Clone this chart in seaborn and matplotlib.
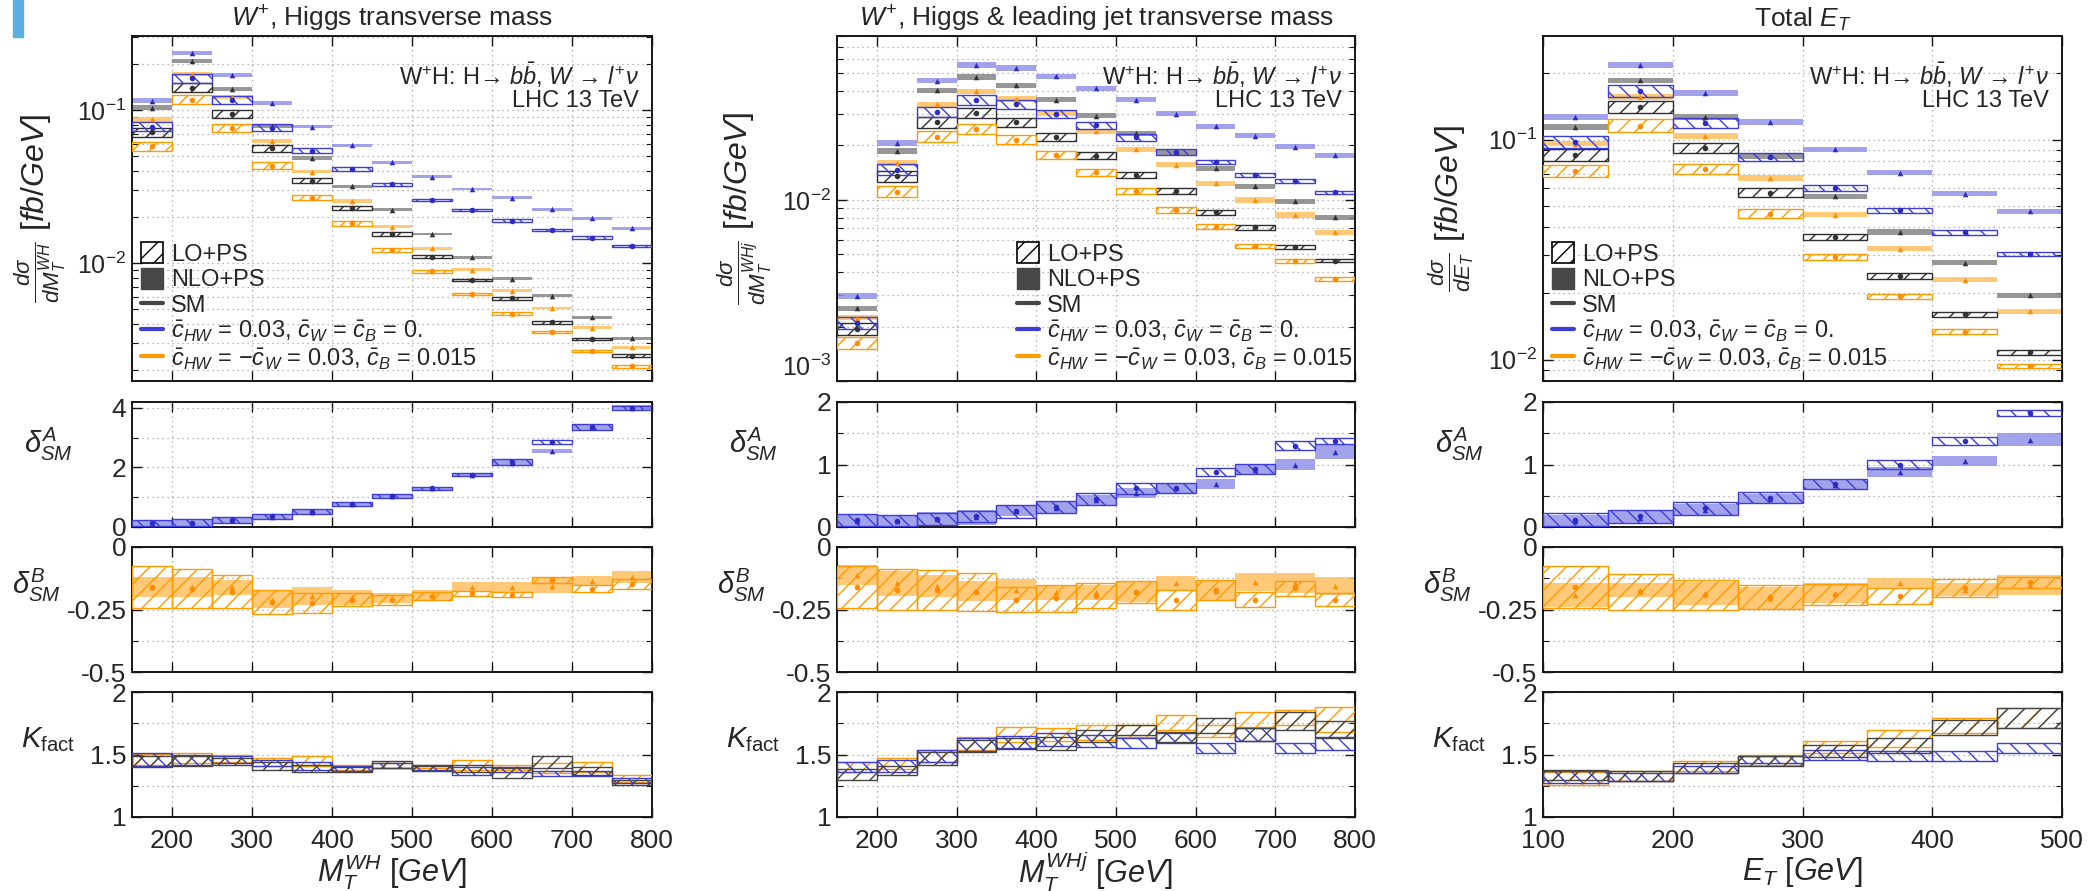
import numpy as np
import matplotlib
matplotlib.use("Agg")
import matplotlib.pyplot as plt
import seaborn as sns
from matplotlib import font_manager
from matplotlib.patches import Patch, Rectangle
from matplotlib.lines import Line2D
from matplotlib.ticker import FixedLocator, LogLocator, NullFormatter, NullLocator, FuncFormatter

# ---------------------------------------------------------------- data
# bin edges
EDGES_MT = [150, 200, 250, 300, 350, 400, 450, 500, 550, 600, 650, 700, 750, 800]
EDGES_ET = [100, 150, 200, 250, 300, 350, 400, 450, 500]

# --- W+, Higgs transverse mass: dsigma/dM_T [fb/GeV]
WH_SM_NLO = [0.104, 0.209, 0.138, 0.079, 0.0487, 0.0319, 0.0223, 0.0155, 0.0109, 0.0079, 0.00612, 0.00443, 0.00324]
WH_SM_LO = [0.0715, 0.140, 0.094, 0.0562, 0.0346, 0.0229, 0.0155, 0.0110, 0.00778, 0.00589, 0.0041, 0.00321, 0.00249]
WH_A_NLO = [0.115, 0.236, 0.170, 0.1116, 0.078, 0.0589, 0.0456, 0.0367, 0.0305, 0.0268, 0.0225, 0.0196, 0.0169]
WH_A_LO = [0.078, 0.161, 0.117, 0.077, 0.0543, 0.0414, 0.0327, 0.0259, 0.0223, 0.019, 0.0165, 0.0147, 0.0130]
WH_B_NLO = [0.087, 0.173, 0.122, 0.063, 0.0396, 0.0255, 0.0173, 0.0125, 0.00905, 0.0066, 0.00509, 0.0038, 0.00282]
WH_B_LO = [0.058, 0.117, 0.0767, 0.0434, 0.0268, 0.0182, 0.0122, 0.00883, 0.00628, 0.00468, 0.00355, 0.00268, 0.00212]
# scale-uncertainty half widths (log10 units)
WH_LO_HW = [0.028, 0.03, 0.025, 0.022, 0.018, 0.014, 0.011, 0.009, 0.008, 0.008, 0.008, 0.008, 0.008]
WH_NLO_HW = [0.016, 0.014, 0.013, 0.012, 0.011, 0.010, 0.010, 0.009, 0.009, 0.009, 0.009, 0.009, 0.009]
# relative deviations from the SM
WH_DA_NLO = [0.10, 0.13, 0.22, 0.35, 0.52, 0.77, 1.05, 1.30, 1.75, 2.15, 2.55, 3.35, 4.0]
WH_DA_NLO_ERR = [0.10, 0.10, 0.10, 0.08, 0.08, 0.07, 0.07, 0.05, 0.06, 0.10, 0.08, 0.10, 0.10]
WH_DA_LO = [0.12, 0.14, 0.23, 0.36, 0.52, 0.78, 1.05, 1.30, 1.75, 2.18, 2.85, 3.35, 4.0]
WH_DA_LO_ERR = [0.10, 0.12, 0.10, 0.09, 0.08, 0.07, 0.06, 0.05, 0.05, 0.10, 0.06, 0.10, 0.08]
WH_DB_NLO = [-0.16, -0.16, -0.16, -0.21, -0.195, -0.20, -0.205, -0.19, -0.16, -0.16, -0.155, -0.135, -0.12]
WH_DB_NLO_ERR = [0.04, 0.04, 0.03, 0.035, 0.035, 0.03, 0.02, 0.02, 0.02, 0.02, 0.03, 0.02, 0.025]
WH_DB_LO = [-0.16, -0.166, -0.178, -0.22, -0.223, -0.21, -0.21, -0.195, -0.184, -0.19, -0.133, -0.166, -0.146]
WH_DB_LO_ERR = [0.085, 0.077, 0.065, 0.048, 0.04, 0.027, 0.02, 0.015, 0.01, 0.01, 0.012, 0.014, 0.02]
# K factors
WH_K_SM = [1.445, 1.45, 1.445, 1.41, 1.39, 1.38, 1.42, 1.39, 1.39, 1.35, 1.44, 1.37, 1.28]
WH_K_SM_ERR = [0.045, 0.04, 0.03, 0.03, 0.03, 0.02, 0.03, 0.02, 0.03, 0.04, 0.05, 0.03, 0.02]
WH_K_A = [1.46, 1.46, 1.46, 1.43, 1.41, 1.39, 1.41, 1.40, 1.37, 1.38, 1.35, 1.35, 1.29]
WH_K_A_ERR = [0.05, 0.04, 0.03, 0.025, 0.03, 0.02, 0.02, 0.02, 0.03, 0.02, 0.02, 0.02, 0.02]
WH_K_B = [1.46, 1.47, 1.47, 1.44, 1.45, 1.40, 1.41, 1.405, 1.42, 1.40, 1.39, 1.40, 1.31]
WH_K_B_ERR = [0.045, 0.04, 0.03, 0.03, 0.04, 0.02, 0.02, 0.015, 0.04, 0.02, 0.04, 0.04, 0.03]

# --- W+, Higgs & leading jet transverse mass
WHJ_SM_NLO = [0.00252, 0.0186, 0.0403, 0.0478, 0.043, 0.0358, 0.0292, 0.0234, 0.0184, 0.015, 0.0119, 0.00984, 0.00802]
WHJ_SM_LO = [0.00193, 0.0135, 0.0269, 0.0302, 0.0269, 0.0224, 0.0176, 0.0137, 0.0112, 0.00855, 0.00706, 0.00552, 0.00462]
WHJ_A_NLO = [0.00295, 0.0206, 0.0457, 0.0558, 0.0535, 0.0482, 0.0415, 0.0358, 0.0299, 0.0255, 0.0227, 0.0197, 0.0177]
WHJ_A_LO = [0.0021, 0.0147, 0.0306, 0.0355, 0.0337, 0.0299, 0.0258, 0.0222, 0.0184, 0.0162, 0.0137, 0.0127, 0.0110]
WHJ_B_NLO = [0.00224, 0.0160, 0.0337, 0.0398, 0.0362, 0.0299, 0.024, 0.0191, 0.0157, 0.0124, 0.0100, 0.00826, 0.00662]
WHJ_B_LO = [0.00162, 0.0111, 0.0224, 0.0247, 0.0215, 0.0178, 0.0142, 0.0112, 0.0088, 0.00712, 0.00555, 0.00462, 0.00366]
WHJ_LO_HW = [0.033, 0.03, 0.03, 0.028, 0.025, 0.022, 0.02, 0.018, 0.015, 0.013, 0.012, 0.011, 0.010]
WHJ_NLO_HW = [0.015, 0.015, 0.015, 0.015, 0.015, 0.014, 0.014, 0.014, 0.014, 0.014, 0.014, 0.014, 0.014]
WHJ_DA_NLO = [0.10, 0.10, 0.13, 0.16, 0.25, 0.31, 0.44, 0.55, 0.62, 0.69, 0.92, 1.00, 1.20]
WHJ_DA_NLO_ERR = [0.09, 0.08, 0.11, 0.12, 0.08, 0.09, 0.08, 0.08, 0.08, 0.08, 0.08, 0.09, 0.11]
WHJ_DA_LO = [0.11, 0.10, 0.13, 0.17, 0.25, 0.32, 0.45, 0.62, 0.63, 0.88, 0.93, 1.30, 1.37]
WHJ_DA_LO_ERR = [0.10, 0.09, 0.10, 0.09, 0.10, 0.09, 0.09, 0.09, 0.08, 0.07, 0.08, 0.07, 0.05]
WHJ_DB_NLO = [-0.11, -0.145, -0.155, -0.175, -0.17, -0.18, -0.18, -0.18, -0.145, -0.175, -0.14, -0.145, -0.155]
WHJ_DB_NLO_ERR = [0.04, 0.05, 0.045, 0.04, 0.042, 0.03, 0.03, 0.04, 0.03, 0.04, 0.035, 0.04, 0.035]
WHJ_DB_LO = [-0.16, -0.17, -0.17, -0.18, -0.21, -0.205, -0.195, -0.18, -0.21, -0.17, -0.21, -0.165, -0.21]
WHJ_DB_LO_ERR = [0.085, 0.083, 0.08, 0.075, 0.05, 0.055, 0.05, 0.045, 0.04, 0.04, 0.03, 0.03, 0.025]
WHJ_K_SM = [1.34, 1.37, 1.47, 1.57, 1.59, 1.59, 1.65, 1.70, 1.64, 1.73, 1.66, 1.77, 1.70]
WHJ_K_SM_ERR = [0.045, 0.035, 0.05, 0.05, 0.045, 0.05, 0.05, 0.04, 0.04, 0.06, 0.05, 0.07, 0.07]
WHJ_K_A = [1.40, 1.41, 1.49, 1.58, 1.60, 1.62, 1.61, 1.59, 1.63, 1.55, 1.66, 1.55, 1.59]
WHJ_K_A_ERR = [0.04, 0.05, 0.05, 0.05, 0.05, 0.05, 0.05, 0.04, 0.04, 0.04, 0.05, 0.04, 0.05]
WHJ_K_B = [1.40, 1.43, 1.49, 1.59, 1.66, 1.66, 1.68, 1.69, 1.76, 1.69, 1.78, 1.80, 1.78]
WHJ_K_B_ERR = [0.04, 0.045, 0.05, 0.05, 0.06, 0.05, 0.06, 0.05, 0.06, 0.05, 0.06, 0.06, 0.10]

# --- Total E_T
ET_SM_NLO = [0.114, 0.186, 0.127, 0.084, 0.0552, 0.038, 0.0276, 0.0196]
ET_SM_LO = [0.085, 0.141, 0.0916, 0.0574, 0.0361, 0.024, 0.0161, 0.0108]
ET_A_NLO = [0.127, 0.218, 0.163, 0.120, 0.0903, 0.0708, 0.0569, 0.0472]
ET_A_LO = [0.0976, 0.166, 0.119, 0.0834, 0.0605, 0.0477, 0.038, 0.0303]
ET_B_NLO = [0.096, 0.156, 0.104, 0.067, 0.0456, 0.032, 0.0231, 0.0166]
ET_B_LO = [0.0721, 0.116, 0.0738, 0.0461, 0.0293, 0.0194, 0.0134, 0.00936]
ET_LO_HW = [0.028, 0.028, 0.022, 0.020, 0.014, 0.012, 0.011, 0.010]
ET_NLO_HW = [0.013, 0.013, 0.013, 0.013, 0.012, 0.012, 0.012, 0.012]
ET_DA_NLO = [0.10, 0.15, 0.28, 0.45, 0.67, 0.88, 1.05, 1.40]
ET_DA_NLO_ERR = [0.09, 0.10, 0.09, 0.08, 0.08, 0.08, 0.08, 0.10]
ET_DA_LO = [0.12, 0.17, 0.30, 0.47, 0.69, 1.00, 1.37, 1.82]
ET_DA_LO_ERR = [0.10, 0.11, 0.10, 0.085, 0.085, 0.075, 0.065, 0.05]
ET_DB_NLO = [-0.19, -0.17, -0.185, -0.205, -0.185, -0.145, -0.17, -0.15]
ET_DB_NLO_ERR = [0.048, 0.028, 0.045, 0.045, 0.04, 0.023, 0.025, 0.04]
ET_DB_LO = [-0.16, -0.18, -0.19, -0.20, -0.19, -0.195, -0.165, -0.14]
ET_DB_LO_ERR = [0.085, 0.072, 0.06, 0.048, 0.042, 0.033, 0.036, 0.022]
ET_K_SM = [1.34, 1.33, 1.39, 1.45, 1.53, 1.57, 1.72, 1.79]
ET_K_SM_ERR = [0.04, 0.04, 0.04, 0.04, 0.05, 0.06, 0.06, 0.08]
ET_K_A = [1.32, 1.32, 1.38, 1.46, 1.50, 1.49, 1.49, 1.55]
ET_K_A_ERR = [0.045, 0.035, 0.03, 0.03, 0.04, 0.04, 0.04, 0.04]
ET_K_B = [1.31, 1.33, 1.41, 1.46, 1.56, 1.63, 1.73, 1.79]
ET_K_B_ERR = [0.05, 0.04, 0.04, 0.04, 0.05, 0.07, 0.06, 0.08]

# ---------------------------------------------------------------- text
TITLES = [r"$W^{+}$, Higgs transverse mass",
          r"$W^{+}$, Higgs & leading jet transverse mass",
          r"Total $E_T$"]
YLABELS = [r"$\frac{d\sigma}{dM_T^{WH}}$ [$fb/GeV$]",
           r"$\frac{d\sigma}{dM_T^{WHj}}$ [$fb/GeV$]",
           r"$\frac{d\sigma}{dE_T}$ [$fb/GeV$]"]
XLABELS = [r"$M_T^{WH}$ [$GeV$]", r"$M_T^{WHj}$ [$GeV$]", r"$E_T$ [$GeV$]"]
PROCESS = r"W$^{+}$H: H→ $b\bar{b}$, $W$ → $l^{+}\nu$"
COLLIDER = "LHC 13 TeV"
LEG_LABELS = ["LO+PS", "NLO+PS", "SM",
              r"$\bar{c}_{HW}$ = 0.03, $\bar{c}_{W}$ = $\bar{c}_{B}$ = 0.",
              r"$\bar{c}_{HW}$ = $-\bar{c}_{W}$ = 0.03, $\bar{c}_{B}$ = 0.015"]

# ---------------------------------------------------------------- style
sns.set_theme(style="ticks")
_avail = {f.name for f in font_manager.fontManager.ttflist}
BASE = next(f for f in ["Liberation Sans Narrow", "Liberation Sans", "DejaVu Sans"] if f in _avail)
plt.rcParams.update({
    "font.family": [BASE, "DejaVu Sans"],
    "mathtext.fontset": "custom",
    "mathtext.rm": BASE,
    "mathtext.it": BASE + ":italic",
    "mathtext.bf": BASE + ":bold",
    "mathtext.sf": BASE,
    "axes.unicode_minus": False,
    "hatch.linewidth": 1.0,
    "axes.facecolor": "white",
})

GREY_FILL, GREY_LINE, GREY_MARK = "#858585", "#454545", "#333333"
BLUE_FILL, BLUE_LINE, BLUE_MARK = "#9393e8", "#3d3dd8", "#2c2cc4"
ORNG_FILL, ORNG_LINE, ORNG_MARK = "#ffc060", "#ff9a00", "#ff8c00"
GRID = dict(color="#a0a0a0", linestyle=(0, (1, 3)), linewidth=0.9)

W_PX, H_PX = 2088, 891
COL_X = [(132, 652), (837, 1355), (1543, 2062)]
ROW_Y = [(36, 381), (402, 527), (547, 672), (692, 817)]

fig = plt.figure(figsize=(W_PX / 100, H_PX / 100), dpi=100)
fig.patch.set_facecolor("white")
fig.patches.append(Rectangle((13 / W_PX, 1 - 37 / H_PX), 10 / W_PX, 37 / H_PX,
                             transform=fig.transFigure, color="#5aaee2", zorder=0))


def new_axes(col, row):
    x0, x1 = COL_X[col]
    y0, y1 = ROW_Y[row]
    ax = fig.add_axes([x0 / W_PX, 1 - y1 / H_PX, (x1 - x0) / W_PX, (y1 - y0) / H_PX])
    for s in ax.spines.values():
        s.set_linewidth(1.4)
        s.set_color("#151515")
    ax.tick_params(which="both", direction="in", top=True, right=True, color="#151515",
                   labelsize=19, pad=4)
    ax.tick_params(axis="x", pad=9)
    ax.tick_params(which="major", length=7, width=1.0)
    ax.tick_params(which="minor", length=4, width=0.8)
    return ax


def band(ax, edges, lo, hi, color, hatch=None, z=2):
    edges = np.asarray(edges, float)
    lo, hi = np.asarray(lo, float), np.asarray(hi, float)
    if hatch is None:
        ax.bar(edges[:-1], hi - lo, bottom=lo, width=np.diff(edges), align="edge",
               color=color, alpha=0.85, linewidth=0, zorder=z)
    else:
        ax.bar(edges[:-1], hi - lo, bottom=lo, width=np.diff(edges), align="edge",
               fill=False, hatch=hatch, edgecolor=color, linewidth=1.0, zorder=z + 1)


def marks(ax, edges, vals, color, marker):
    edges = np.asarray(edges, float)
    mid = 0.5 * (edges[:-1] + edges[1:])
    sns.scatterplot(x=mid, y=np.asarray(vals, float), marker=marker, color=color, s=16,
                    linewidth=0, ax=ax, legend=False, zorder=6)


COLUMNS = [
    dict(edges=EDGES_MT, sm=(WH_SM_NLO, WH_SM_LO), a=(WH_A_NLO, WH_A_LO), b=(WH_B_NLO, WH_B_LO),
         hw=(WH_NLO_HW, WH_LO_HW), ylim=(0.0017, 0.305),
         da=(WH_DA_NLO, WH_DA_NLO_ERR, WH_DA_LO, WH_DA_LO_ERR),
         db=(WH_DB_NLO, WH_DB_NLO_ERR, WH_DB_LO, WH_DB_LO_ERR),
         k=((WH_K_B, WH_K_B_ERR), (WH_K_A, WH_K_A_ERR), (WH_K_SM, WH_K_SM_ERR)),
         xt=[200, 300, 400, 500, 600, 700, 800], da_lim=(0, 4.2), da_major=[0, 2, 4], da_minor=[1, 3],
         leg_x=0.0),
    dict(edges=EDGES_MT, sm=(WHJ_SM_NLO, WHJ_SM_LO), a=(WHJ_A_NLO, WHJ_A_LO), b=(WHJ_B_NLO, WHJ_B_LO),
         hw=(WHJ_NLO_HW, WHJ_LO_HW), ylim=(0.001, 0.0805),
         da=(WHJ_DA_NLO, WHJ_DA_NLO_ERR, WHJ_DA_LO, WHJ_DA_LO_ERR),
         db=(WHJ_DB_NLO, WHJ_DB_NLO_ERR, WHJ_DB_LO, WHJ_DB_LO_ERR),
         k=((WHJ_K_B, WHJ_K_B_ERR), (WHJ_K_A, WHJ_K_A_ERR), (WHJ_K_SM, WHJ_K_SM_ERR)),
         xt=[200, 300, 400, 500, 600, 700, 800], da_lim=(0, 2), da_major=[0, 1, 2], da_minor=[0.5, 1.5],
         leg_x=0.33),
    dict(edges=EDGES_ET, sm=(ET_SM_NLO, ET_SM_LO), a=(ET_A_NLO, ET_A_LO), b=(ET_B_NLO, ET_B_LO),
         hw=(ET_NLO_HW, ET_LO_HW), ylim=(0.008, 0.296),
         da=(ET_DA_NLO, ET_DA_NLO_ERR, ET_DA_LO, ET_DA_LO_ERR),
         db=(ET_DB_NLO, ET_DB_NLO_ERR, ET_DB_LO, ET_DB_LO_ERR),
         k=((ET_K_B, ET_K_B_ERR), (ET_K_A, ET_K_A_ERR), (ET_K_SM, ET_K_SM_ERR)),
         xt=[100, 200, 300, 400, 500], da_lim=(0, 2), da_major=[0, 1, 2], da_minor=[0.5, 1.5],
         leg_x=0.0),
]

SERIES = [("sm", GREY_FILL, GREY_LINE, GREY_MARK, "//"),
          ("b", ORNG_FILL, ORNG_LINE, ORNG_MARK, "//"),
          ("a", BLUE_FILL, BLUE_LINE, BLUE_MARK, "\\\\")]
K_STYLE = [(ORNG_LINE, "//"), (BLUE_LINE, "\\\\"), (GREY_LINE, "//")]

for ci, spec in enumerate(COLUMNS):
    edges = spec["edges"]
    x0, x1 = COL_X[ci]
    wpx = x1 - x0
    nlo_hw = np.asarray(spec["hw"][0])
    lo_hw = np.asarray(spec["hw"][1])

    # ---- main distribution
    ax = new_axes(ci, 0)
    ax.set_yscale("log")
    for key, fill, line, mark, hatch in SERIES:
        nlo, lo = (np.asarray(v, float) for v in spec[key])
        band(ax, edges, nlo * 10 ** (-nlo_hw), nlo * 10 ** nlo_hw, fill)
        band(ax, edges, lo * 10 ** (-lo_hw), lo * 10 ** lo_hw,
             "#2e2e2e" if key == "sm" else line, hatch=hatch)
        marks(ax, edges, nlo, mark, "^")
        marks(ax, edges, lo, mark, "o")
    ax.set_ylim(*spec["ylim"])
    ax.yaxis.set_major_locator(LogLocator(base=10))
    ax.yaxis.set_minor_locator(LogLocator(base=10, subs=np.arange(2, 10)))
    ax.yaxis.set_minor_formatter(NullFormatter())
    ax.tick_params(axis="y", labelsize=18)
    # a decade label sitting on the lower frame edge is lifted above it
    locs = ax.yaxis.get_majorticklocs()
    for tick, loc in zip(ax.yaxis.get_major_ticks(len(locs)), locs):
        if np.isclose(loc, spec["ylim"][0]):
            tick.label1.set_va("bottom")
    ax.text(0.975, 0.885, PROCESS, transform=ax.transAxes, ha="right", va="center", fontsize=17)
    ax.text(0.975, 0.812, COLLIDER, transform=ax.transAxes, ha="right", va="center", fontsize=17)
    ax.set_ylabel(YLABELS[ci], fontsize=23, va="center")
    ax.yaxis.set_label_coords(-92 / wpx, 0.5)
    fig.text((x0 + x1) / 2 / W_PX, 1 - 19 / H_PX, TITLES[ci], ha="center", va="center", fontsize=19)
    handles = [Patch(facecolor="white", edgecolor="black", hatch="//", linewidth=1.2),
               Patch(facecolor="#474747", edgecolor="#474747"),
               Line2D([], [], color=GREY_LINE, lw=3),
               Line2D([], [], color=BLUE_LINE, lw=3),
               Line2D([], [], color=ORNG_LINE, lw=3)]
    ax.legend(handles, LEG_LABELS, loc="lower left", bbox_to_anchor=(spec["leg_x"], 0.0),
              frameon=False, fontsize=17, handlelength=0.9, handleheight=1.0,
              handletextpad=0.35, labelspacing=0.08, borderaxespad=0.25, borderpad=0.15)

    # ---- delta^A (blue model)
    axa = new_axes(ci, 1)
    nlo, nerr, lo, lerr = (np.asarray(v, float) for v in spec["da"])
    band(axa, edges, nlo - nerr, nlo + nerr, BLUE_FILL)
    band(axa, edges, lo - lerr, lo + lerr, BLUE_LINE, hatch="\\\\")
    marks(axa, edges, nlo, BLUE_MARK, "^")
    marks(axa, edges, lo, BLUE_MARK, "o")
    axa.set_ylim(*spec["da_lim"])
    axa.yaxis.set_major_locator(FixedLocator(spec["da_major"]))
    axa.yaxis.set_minor_locator(FixedLocator(spec["da_minor"]))
    axa.yaxis.set_major_formatter(FuncFormatter(lambda v, p: f"{v:g}"))
    axa.text(-84 / wpx, 0.66, r"$\delta^{A}_{SM}$", transform=axa.transAxes,
             ha="center", va="center", fontsize=21)

    # ---- delta^B (orange model)
    axb = new_axes(ci, 2)
    nlo, nerr, lo, lerr = (np.asarray(v, float) for v in spec["db"])
    band(axb, edges, nlo - nerr, nlo + nerr, ORNG_FILL)
    band(axb, edges, lo - lerr, lo + lerr, ORNG_LINE, hatch="//")
    marks(axb, edges, nlo, ORNG_MARK, "^")
    marks(axb, edges, lo, ORNG_MARK, "o")
    axb.set_ylim(-0.5, 0)
    axb.yaxis.set_major_locator(FixedLocator([-0.5, -0.25, 0]))
    axb.yaxis.set_minor_locator(FixedLocator([-0.375, -0.125]))
    axb.yaxis.set_major_formatter(FuncFormatter(lambda v, p: f"{v:g}"))
    axb.text(-96 / wpx, 0.69, r"$\delta^{B}_{SM}$", transform=axb.transAxes,
             ha="center", va="center", fontsize=21)

    # ---- K factors
    axk = new_axes(ci, 3)
    for (val, err), (line, hatch) in zip(spec["k"], K_STYLE):
        val, err = np.asarray(val, float), np.asarray(err, float)
        band(axk, edges, val - err, val + err, line, hatch=hatch)
    axk.set_ylim(1, 2)
    axk.yaxis.set_major_locator(FixedLocator([1, 1.5, 2]))
    axk.yaxis.set_minor_locator(FixedLocator([1.25, 1.75]))
    axk.yaxis.set_major_formatter(FuncFormatter(lambda v, p: f"{v:g}"))
    axk.text(-84 / wpx, 0.62, r"$K_{\rm fact}$", transform=axk.transAxes,
             ha="center", va="center", fontsize=21)
    axk.set_xlabel(XLABELS[ci], fontsize=22, va="center")
    axk.xaxis.set_label_coords(0.5, -(872 - 817) / 125)

    for a in (ax, axa, axb, axk):
        a.set_xlim(edges[0], edges[-1])
        a.xaxis.set_major_locator(FixedLocator(spec["xt"]))
        a.xaxis.set_minor_locator(NullLocator())
        a.grid(True, which="both", **GRID)
        a.set_axisbelow(True)
        if a is not axk:
            a.tick_params(labelbottom=False)

fig.savefig("out.png", dpi=100, facecolor="white")
